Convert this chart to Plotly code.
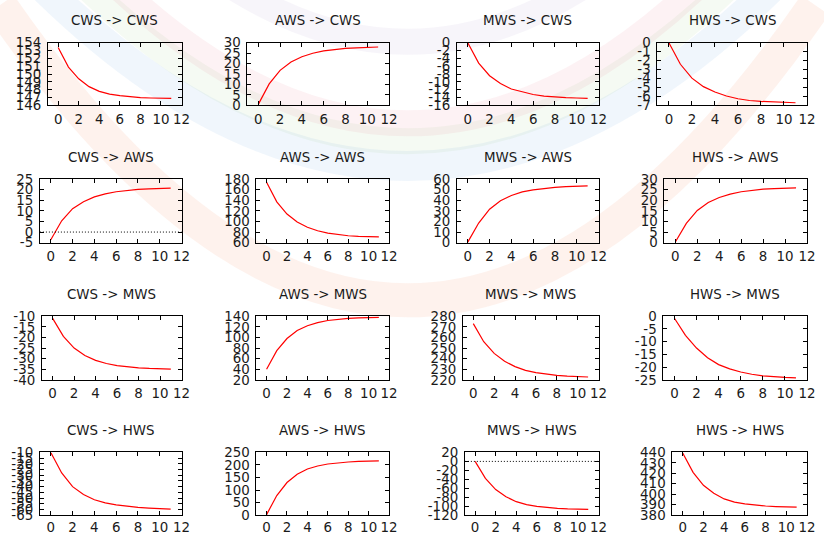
import plotly.graph_objects as go

# ---------------- data ----------------
steps = list(range(12))
variables = ["CWS", "AWS", "MWS", "HWS"]

# response of CWS
cws_to_cws = [153.4, 150.9, 149.4, 148.4, 147.8, 147.45, 147.25, 147.1, 147.0, 146.95, 146.92, 146.9]
aws_to_cws = [0.5, 10.3, 16.8, 20.8, 23.3, 25.0, 26.1, 26.8, 27.3, 27.6, 27.8, 28.0]
mws_to_cws = [0.0, -5.2, -8.4, -10.4, -11.8, -12.6, -13.2, -13.6, -13.85, -14.0, -14.1, -14.2]
hws_to_cws = [0.0, -2.4, -3.95, -4.9, -5.5, -5.95, -6.25, -6.45, -6.55, -6.62, -6.67, -6.7]
# response of AWS
cws_to_aws = [-3.6, 5.3, 11.0, 14.3, 16.6, 18.0, 19.0, 19.7, 20.1, 20.4, 20.6, 20.7]
aws_to_aws = [174.0, 137.0, 114.0, 99.0, 89.0, 82.5, 78.0, 75.0, 73.0, 72.0, 71.3, 71.0]
mws_to_aws = [0.5, 18.5, 31.5, 39.5, 44.5, 47.8, 49.8, 51.2, 52.2, 52.8, 53.2, 53.5]
hws_to_aws = [0.3, 9.1, 15.2, 18.9, 21.3, 22.9, 24.0, 24.7, 25.2, 25.5, 25.7, 25.8]
# response of MWS
cws_to_mws = [-11.0, -19.5, -25.0, -28.5, -30.8, -32.3, -33.3, -33.9, -34.3, -34.6, -34.8, -34.9]
aws_to_mws = [40.0, 75.0, 98.0, 113.0, 122.0, 128.0, 132.0, 134.5, 136.0, 137.0, 137.7, 138.0]
mws_to_mws = [273.0, 256.0, 245.0, 237.5, 232.5, 229.0, 226.8, 225.3, 224.2, 223.5, 223.0, 222.7]
hws_to_mws = [-0.8, -7.5, -12.5, -16.3, -19.0, -20.7, -21.9, -22.8, -23.4, -23.8, -24.0, -24.2]
# response of HWS
cws_to_hws = [-10.0, -28.0, -40.0, -47.0, -51.5, -54.3, -56.0, -57.3, -58.2, -58.8, -59.3, -59.7]
aws_to_hws = [2.0, 78.0, 130.0, 163.0, 184.0, 196.0, 204.0, 209.0, 212.0, 214.0, 215.0, 216.0]
mws_to_hws = [0.0, -38.0, -63.0, -79.0, -90.0, -96.5, -100.5, -103.0, -104.8, -106.0, -106.8, -107.4]
hws_to_hws = [439.5, 421.0, 408.5, 401.0, 395.5, 392.5, 390.8, 389.6, 388.7, 388.2, 387.9, 387.6]

series = [
    [cws_to_cws, aws_to_cws, mws_to_cws, hws_to_cws],
    [cws_to_aws, aws_to_aws, mws_to_aws, hws_to_aws],
    [cws_to_mws, aws_to_mws, mws_to_mws, hws_to_mws],
    [cws_to_hws, aws_to_hws, mws_to_hws, hws_to_hws],
]

# y tick labels per panel
y_ticks = [
    [list(range(146, 155, 1)), list(range(0, 31, 5)), list(range(-16, 1, 2)), list(range(-7, 1, 1))],
    [list(range(-5, 26, 5)), list(range(60, 181, 20)), list(range(0, 61, 10)), list(range(0, 31, 5))],
    [list(range(-40, -9, 5)), list(range(20, 141, 20)), list(range(220, 281, 10)), list(range(-25, 1, 5))],
    [list(range(-65, -9, 5)), list(range(0, 251, 50)), list(range(-120, 21, 20)), list(range(380, 441, 10))],
]
x_ticks = list(range(0, 13, 2))

# ---------------- layout (target screen pixels) ----------------
W, H = 824, 540
# observed mapping of the page into the picture (offset, scale)
AX, SX = 1.0, 817.0 / 824.0
AY, SY = 5.0, 528.0 / 540.0


def px(X):
    return (X - AX) / SX / W


def py(Y):
    return 1 - (Y - AY) / SY / H


left_px = [[49, 249, 459, 660], [41, 258, 459, 667], [43, 258, 465, 666], [41, 258, 467, 675]]
right_px = [183, 391, 601, 810]
top_px = [41, 178, 316, 453]
bottom_px = [104, 242, 380, 516]
x_standoff = [1, 1, 1, 0]

FONT = "DejaVu Sans"
FS = 13.4
TXT = "#1a1a1a"

fig = go.Figure()
layout = dict(
    width=W, height=H, margin=dict(l=0, r=0, t=0, b=0),
    paper_bgcolor="white", plot_bgcolor="rgba(0,0,0,0)",
    showlegend=False, font=dict(family=FONT, size=FS, color=TXT),
)
annotations = []
shapes = []

# faint watermark bands (decoration)
bands = [
    ("rgba(245,140,90,0.11)", 300, 3, 34),
    ("rgba(120,170,225,0.11)", 165, -60, 30),
    ("rgba(140,195,120,0.09)", 140, -110, 26),
    ("rgba(235,110,130,0.09)", 122, -150, 26),
    ("rgba(150,130,190,0.08)", 40, -260, 26),
]
for col, y0, ye, lw in bands:
    cy = 2 * y0 - ye
    path = "M 0 %f Q %f %f 1 %f" % (py(ye), 0.5, py(cy), py(ye))
    shapes.append(dict(type="path", path=path, xref="paper", yref="paper",
                       line=dict(color=col, width=lw), layer="below"))

for i in range(4):
    for j in range(4):
        k = i * 4 + j + 1
        sfx = "" if k == 1 else str(k)
        xa, ya = "xaxis" + sfx, "yaxis" + sfx
        xd = [px(left_px[i][j]), px(right_px[j])]
        yd = [py(bottom_px[i]), py(top_px[i])]
        yt = y_ticks[i][j]
        common = dict(showline=True, linecolor="black", linewidth=1, mirror="ticks",
                      ticks="inside", ticklen=4, tickcolor="black", tickwidth=1,
                      showgrid=False, zeroline=False, fixedrange=True,
                      tickfont=dict(family=FONT, size=FS, color=TXT))
        layout[xa] = dict(domain=xd, anchor="y" + sfx, range=[-1, 12],
                          tickmode="array", tickvals=x_ticks,
                          ticktext=[str(v) for v in x_ticks],
                          ticklabelstandoff=x_standoff[i], **common)
        layout[ya] = dict(domain=yd, anchor="x" + sfx, range=[yt[0], yt[-1]],
                          tickmode="array", tickvals=yt,
                          ticktext=[str(v) for v in yt], ticklabelstandoff=3, **common)
        fig.add_trace(go.Scatter(x=steps, y=series[i][j], mode="lines",
                                 line=dict(color="#ff0000", width=1.2),
                                 xaxis="x" + sfx, yaxis="y" + sfx))
        if yt[0] < 0 < yt[-1]:
            shapes.append(dict(type="line", xref="x" + sfx + " domain", yref="y" + sfx,
                               x0=0, x1=1, y0=0, y1=0,
                               line=dict(color="black", width=1, dash="1px,2px")))
        annotations.append(dict(text="%s -> %s" % (variables[j], variables[i]),
                                xref="paper", yref="paper",
                                x=px((left_px[i][j] + right_px[j]) / 2),
                                y=py(top_px[i] - 22),
                                xanchor="center", yanchor="middle", showarrow=False,
                                font=dict(family=FONT, size=FS, color=TXT)))

layout["annotations"] = annotations
layout["shapes"] = shapes
fig.update_layout(**layout)
fig.write_html("out.html")
